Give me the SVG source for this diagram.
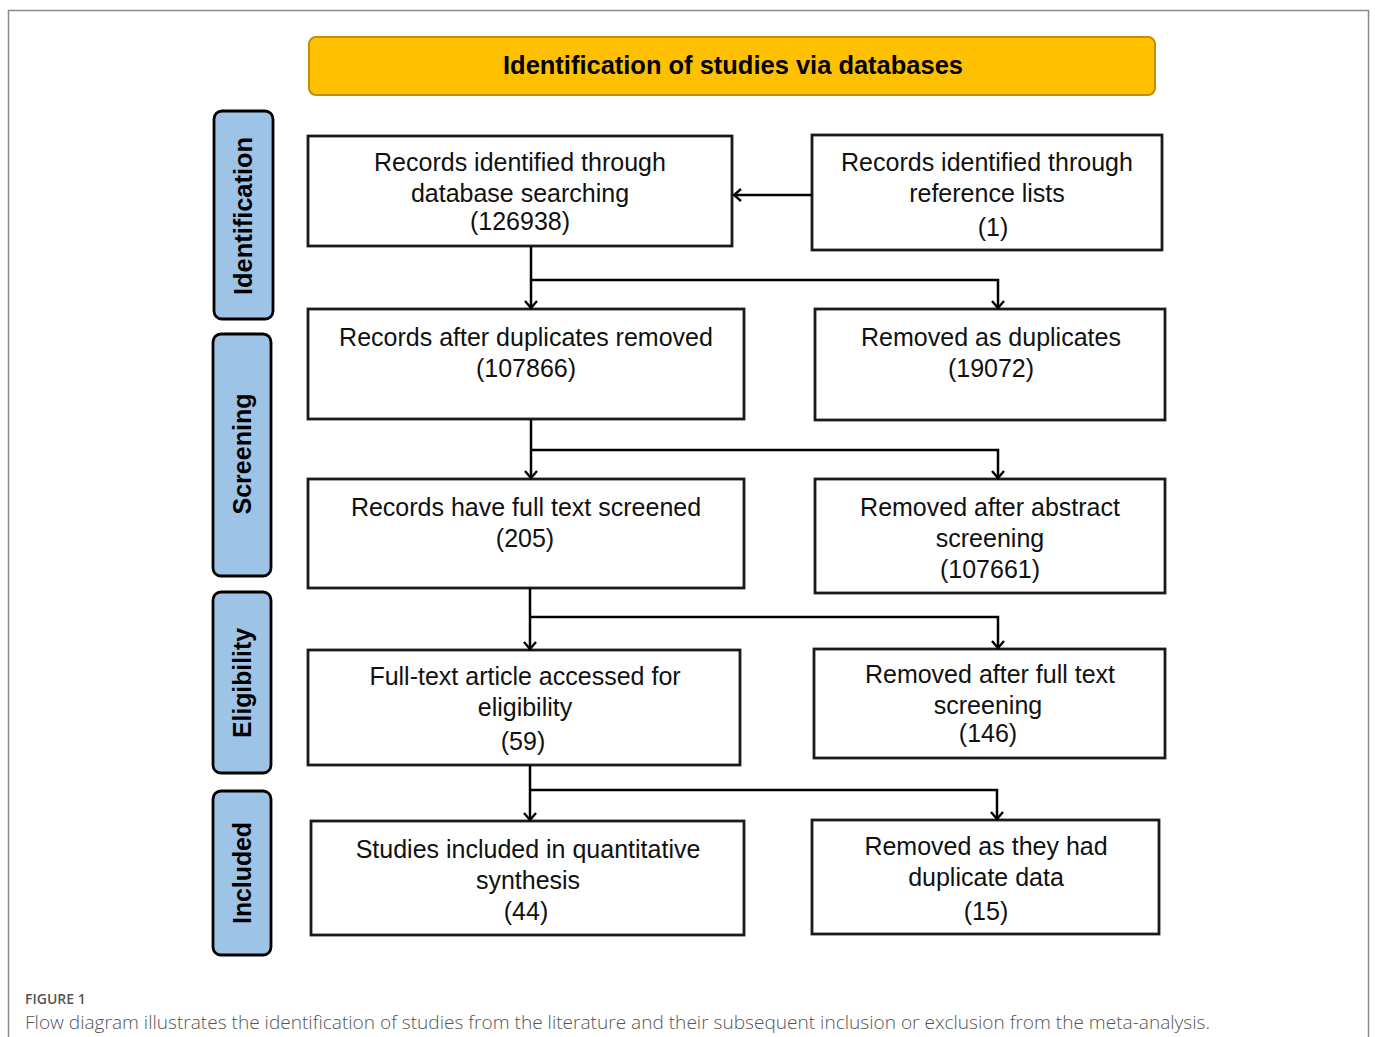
<svg xmlns="http://www.w3.org/2000/svg" width="1375" height="1037" viewBox="0 0 1375 1037">
<defs>
<marker id="ah" markerUnits="userSpaceOnUse" markerWidth="16" markerHeight="16" refX="8" refY="7" orient="auto">
<path d="M1,1 L8,7 L1,13" fill="none" stroke="#000" stroke-width="2.4"/>
</marker>
<style>
.box{fill:#fff;stroke:#1a1a1a;stroke-width:2.8}
.side{fill:#9DC3E6;stroke:#000;stroke-width:2.8}
.t{font-family:"Liberation Sans",Arial,sans-serif;font-size:25px;fill:#111;text-anchor:middle}
.st{font-family:"Liberation Sans",Arial,sans-serif;font-size:25px;font-weight:bold;fill:#000;text-anchor:middle}
.c{fill:none;stroke:#000;stroke-width:2.5}
.cap{font-family:"Open Sans","Noto Sans",sans-serif;fill:#555}
</style>
</defs>
<rect x="0" y="0" width="1375" height="1037" fill="#fff"/>
<rect x="8.5" y="10.5" width="1360" height="1040" fill="none" stroke="#888" stroke-width="1.5"/>

<g id="header">
<rect x="309" y="37" width="846" height="58" rx="7" fill="#FFC000" stroke="#BF9000" stroke-width="2"/>
<text x="733" y="74" class="st" font-size="24" textLength="460" lengthAdjust="spacingAndGlyphs">Identification of studies via databases</text>
</g>

<g id="stage-identification">
<rect class="side" x="214" y="111" width="59" height="208" rx="8"/>
<text class="st" transform="translate(252,216) rotate(-90)" textLength="158" lengthAdjust="spacingAndGlyphs">Identification</text>
</g>
<g id="stage-screening">
<rect class="side" x="213" y="334" width="58" height="242" rx="8"/>
<text class="st" transform="translate(251,454) rotate(-90)" textLength="121" lengthAdjust="spacingAndGlyphs">Screening</text>
</g>
<g id="stage-eligibility">
<rect class="side" x="213" y="592" width="58" height="181" rx="8"/>
<text class="st" transform="translate(251,683) rotate(-90)" textLength="110" lengthAdjust="spacingAndGlyphs">Eligibility</text>
</g>
<g id="stage-included">
<rect class="side" x="213" y="791" width="58" height="164" rx="8"/>
<text class="st" transform="translate(251,873) rotate(-90)" textLength="102" lengthAdjust="spacingAndGlyphs">Included</text>
</g>

<g id="n1">
<rect class="box" x="308" y="136" width="424" height="110"/>
<text class="t" x="520" y="171">Records identified through</text>
<text class="t" x="520" y="202">database searching</text>
<text class="t" x="520" y="230">(126938)</text>
</g>
<g id="n2">
<rect class="box" x="812" y="135" width="350" height="115"/>
<text class="t" x="987" y="171">Records identified through</text>
<text class="t" x="987" y="202">reference lists</text>
<text class="t" x="993" y="236">(1)</text>
</g>
<g id="n3">
<rect class="box" x="308" y="309" width="436" height="110"/>
<text class="t" x="526" y="346">Records after duplicates removed</text>
<text class="t" x="526" y="377">(107866)</text>
</g>
<g id="n4">
<rect class="box" x="815" y="309" width="350" height="111"/>
<text class="t" x="991" y="346">Removed as duplicates</text>
<text class="t" x="991" y="377">(19072)</text>
</g>
<g id="n5">
<rect class="box" x="308" y="479" width="436" height="109"/>
<text class="t" x="526" y="516">Records have full text screened</text>
<text class="t" x="525" y="547">(205)</text>
</g>
<g id="n6">
<rect class="box" x="815" y="479" width="350" height="114"/>
<text class="t" x="990" y="516">Removed after abstract</text>
<text class="t" x="990" y="547">screening</text>
<text class="t" x="990" y="578">(107661)</text>
</g>
<g id="n7">
<rect class="box" x="308" y="650" width="432" height="115"/>
<text class="t" x="525" y="685">Full-text article accessed for</text>
<text class="t" x="525" y="716">eligibility</text>
<text class="t" x="523" y="750">(59)</text>
</g>
<g id="n8">
<rect class="box" x="814" y="649" width="351" height="109"/>
<text class="t" x="990" y="683">Removed after full text</text>
<text class="t" x="988" y="714">screening</text>
<text class="t" x="988" y="742">(146)</text>
</g>
<g id="n9">
<rect class="box" x="311" y="821" width="433" height="114"/>
<text class="t" x="528" y="858">Studies included in quantitative</text>
<text class="t" x="528" y="889">synthesis</text>
<text class="t" x="526" y="920">(44)</text>
</g>
<g id="n10">
<rect class="box" x="812" y="820" width="347" height="114"/>
<text class="t" x="986" y="855">Removed as they had</text>
<text class="t" x="986" y="886">duplicate data</text>
<text class="t" x="986" y="920">(15)</text>
</g>

<g id="connectors">
<path class="c" d="M812,195 L734,195" marker-end="url(#ah)"/>
<path class="c" d="M531,246 L531,308" marker-end="url(#ah)"/>
<path class="c" d="M531,280 L998,280 L998,308" marker-end="url(#ah)"/>
<path class="c" d="M531,419 L531,478" marker-end="url(#ah)"/>
<path class="c" d="M531,450 L998,450 L998,478" marker-end="url(#ah)"/>
<path class="c" d="M530,588 L530,649" marker-end="url(#ah)"/>
<path class="c" d="M530,617 L998,617 L998,648" marker-end="url(#ah)"/>
<path class="c" d="M530,765 L530,820" marker-end="url(#ah)"/>
<path class="c" d="M530,790 L997,790 L997,819" marker-end="url(#ah)"/>
</g>

<g id="caption">
<text class="cap" x="25" y="1004" font-size="14" font-weight="600">FIGURE 1</text>
<text class="cap" x="25" y="1029" font-size="18" font-weight="300" textLength="1185" lengthAdjust="spacingAndGlyphs">Flow diagram illustrates the identification of studies from the literature and their subsequent inclusion or exclusion from the meta-analysis.</text>
</g>
</svg>
